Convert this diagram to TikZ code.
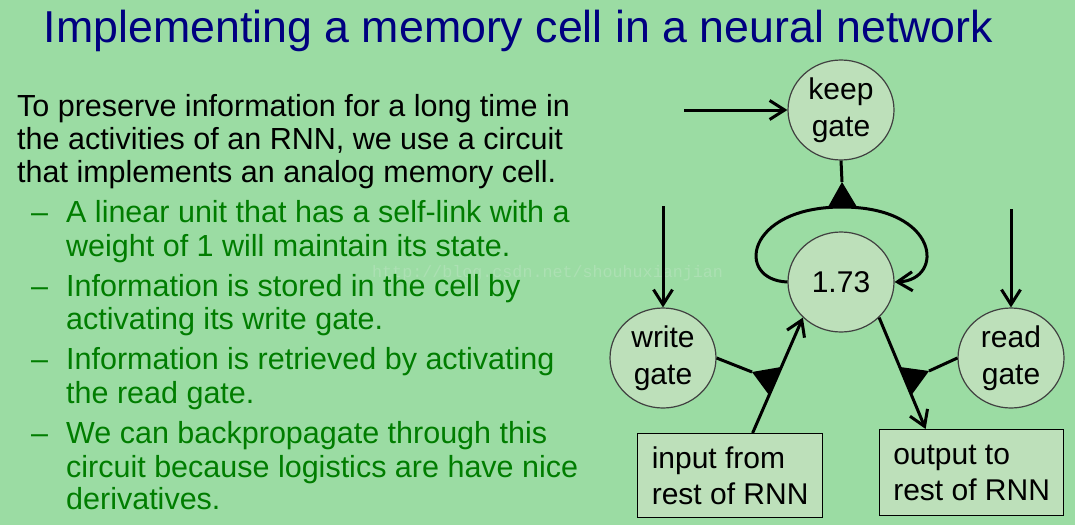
\documentclass[tikz,border=0pt]{standalone}
\usepackage{fontspec}
\setmainfont{Liberation Sans}
\newfontfamily\wmfont{Liberation Mono}
\usetikzlibrary{shapes.geometric,arrows.meta}
\definecolor{bg}{RGB}{155,220,163}
\definecolor{nodefill}{RGB}{189,224,186}
\definecolor{bullgreen}{RGB}{0,125,0}
\definecolor{titleblue}{RGB}{0,0,128}
\definecolor{wmcol}{RGB}{172,224,179}
\begin{document}
\begin{tikzpicture}[x=1pt,y=-1pt,
  body/.style={anchor=base west, inner sep=0pt, font=\fontsize{30.5}{36}\selectfont},
  greenbody/.style={body, text=bullgreen},
  gatenode/.style={ellipse, draw=black!75, line width=1.2pt, fill=nodefill, minimum width=106pt, minimum height=100pt, inner sep=0pt, align=center, font=\fontsize{30}{37}\selectfont},
  boxnode/.style={rectangle, draw=black, line width=1.2pt, fill=nodefill, anchor=north west, align=left, font=\fontsize{30}{36}\selectfont, inner ysep=0pt},
  conn/.style={line width=3pt},
  arr/.style={conn, -{Straight Barb[length=15pt,width=19pt]}},
  tri/.style={fill=black},
]
\fill[bg] (0,0) rectangle (1075,525);
\useasboundingbox (0,0) rectangle (1075,525);

% title
\node[anchor=base, text=titleblue, font=\fontsize{44.7}{50}\selectfont, inner sep=0pt] (title) at (518.5,42) {Implementing a memory cell in a neural network};

% watermark
\node[anchor=base west, text=wmcol, font=\wmfont\fontsize{16.7}{20}\selectfont, inner sep=0pt] (wm) at (372,277) {http://blog.csdn.net/shouhuxianjian};

% body text
\node[body] (l1) at (17,116) {To preserve information for a long time in};
\node[body] (l2) at (17,149) {the activities of an RNN, we use a circuit};
\node[body] (l3) at (17,182) {that implements an analog memory cell.};
\node[greenbody] (d1) at (31,222) {–};
\node[greenbody] (b1a) at (66,222) {A linear unit that has a self-link with a};
\node[greenbody] (b1b) at (66,256) {weight of 1 will maintain its state.};
\node[greenbody] (d2) at (31,296) {–};
\node[greenbody] (b2a) at (66,296) {Information is stored in the cell by};
\node[greenbody] (b2b) at (66,329) {activating its write gate.};
\node[greenbody] (d3) at (31,369) {–};
\node[greenbody] (b3a) at (66,369) {Information is retrieved by activating};
\node[greenbody] (b3b) at (66,403) {the read gate.};
\node[greenbody] (d4) at (31,443) {–};
\node[greenbody] (b4a) at (66,443) {We can backpropagate through this};
\node[greenbody] (b4b) at (66,477) {circuit because logistics are have nice};
\node[greenbody] (b4c) at (66,509) {derivatives.};

% diagram nodes
\node[gatenode] (keep) at (841,110) {keep\\gate};
\node[gatenode] (cell) at (841,282) {1.73};
\node[gatenode] (write) at (663,358) {write\\gate};
\node[gatenode] (read) at (1011,358) {read\\gate};
\node[boxnode, minimum width=185pt, minimum height=84pt, inner xsep=12pt] (inp) at (637,433) {input from\\rest of RNN};
\node[boxnode, minimum width=184pt, minimum height=86pt, inner xsep=12pt] (out) at (879,429) {output to\\rest of RNN};

% coordinates
\coordinate (kin) at (684,110);
\coordinate (win) at (663,206);
\coordinate (rin) at (1011,209);
\coordinate (ka) at (842,182);
\coordinate (kb1) at (828,207);
\coordinate (kb2) at (857,207);
\coordinate (ltop) at (842,207);
\coordinate (wa) at (752,372);
\coordinate (wb1) at (769,395);
\coordinate (wb2) at (781,367);
\coordinate (ra) at (929,371);
\coordinate (rb1) at (900,367);
\coordinate (rb2) at (911.5,395);

% connectors
\draw[arr] (kin) -- (keep.west);
\draw[arr] (win) -- (write.north);
\draw[arr] (rin) -- (read.north);
\draw[conn] (keep.south) -- (ka);
\draw[arr] (cell.west) .. controls (735,280) and (745,207) .. (ltop) .. controls (940,207) and (945,280) .. (cell.east);
\fill[tri] (ka) -- (kb1) -- (kb2) -- cycle;
\draw[arr] ([xshift=22.5pt]inp.north) -- (cell.223.5);
\draw[conn] (write.east) -- (wa);
\fill[tri] (wa) -- (wb1) -- (wb2) -- cycle;
\draw[arr] (cell.317) -- ([xshift=-46pt]out.north);
\draw[conn] (read.west) -- (ra);
\fill[tri] (ra) -- (rb1) -- (rb2) -- cycle;
\end{tikzpicture}
\end{document}
